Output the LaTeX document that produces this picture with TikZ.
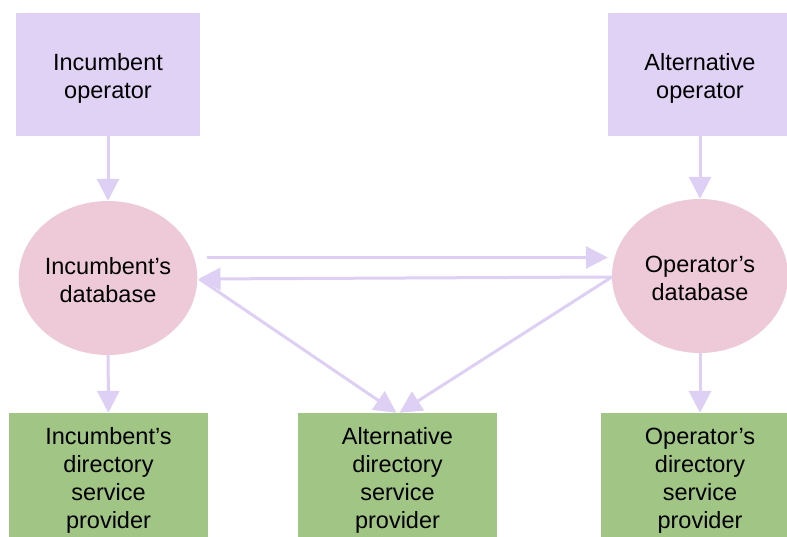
\documentclass[tikz,border=0pt]{standalone}
\usepackage{fontspec}
\setmainfont{Liberation Sans}
\usetikzlibrary{arrows.meta,shapes.geometric}

\definecolor{opfill}{HTML}{E0D2F5}
\definecolor{dbfill}{HTML}{EECAD8}
\definecolor{dsfill}{HTML}{A0C584}
\definecolor{flowcol}{HTML}{DDD0F4}

% taller first line: pushes a text block down inside its shape
\newcommand{\firstline}[1]{\rule{0pt}{#1}}

\tikzset{
  txt/.style={font=\fontsize{23.5}{28}\selectfont, align=center, text=black, inner sep=0pt},
  opbox/.style={txt, fill=opfill, minimum width=184pt, minimum height=123pt},
  dbell/.style={txt, ellipse, fill=dbfill, minimum width=176pt, minimum height=154pt},
  dsbox/.style={txt, fill=dsfill, minimum width=199pt, minimum height=130pt},
  flow/.style={draw=flowcol, line width=3pt,
    -{Triangle[length=22pt,width=22pt,fill=flowcol]}}
}

\begin{document}
\begin{tikzpicture}[x=1pt,y=-1pt]
  \clip (0,0) rectangle (787,537);

  % operators
  \node[opbox] (incop) at (108,74.5) {\firstline{25pt}Incumbent\\operator};
  \node[opbox] (altop) at (700,74.5) {\firstline{25pt}Alternative\\operator};

  % databases
  \node[dbell] (incdb) at (108,278) {\firstline{21pt}Incumbent’s\\database};
  \node[dbell] (opdb)  at (700,276) {\firstline{21pt}Operator’s\\database};

  % directory service providers
  \node[dsbox] (incds) at (108.5,478) {\firstline{22pt}Incumbent’s\\directory\\service\\provider};
  \node[dsbox] (altds) at (397.5,478) {\firstline{22pt}Alternative\\directory\\service\\provider};
  \node[dsbox] (opds)  at (700,478)   {\firstline{22pt}Operator’s\\directory\\service\\provider};

  % operators feed their databases
  \draw[flow] (incop) -- (incdb);
  \draw[flow] (altop) -- (opdb);

  % exchange between the databases
  \draw[flow] ([xshift=10pt,yshift=20.5pt]incdb.east) -- ([xshift=-4pt,yshift=18.5pt]opdb.west);
  \draw[flow] ([yshift=-1pt]opdb.west) -- ([xshift=1pt,yshift=-1pt]incdb.east);

  % databases supply the directory providers
  \draw[flow] (incdb) -- (incds);
  \draw[flow] (opdb) -- (opds);
  \draw[flow] ([xshift=2pt,yshift=-1pt]incdb.east) -- ([xshift=-1pt]altds.north);
  \draw[flow] ([yshift=-1pt]opdb.west) -- ([xshift=2pt]altds.north);
\end{tikzpicture}
\end{document}
